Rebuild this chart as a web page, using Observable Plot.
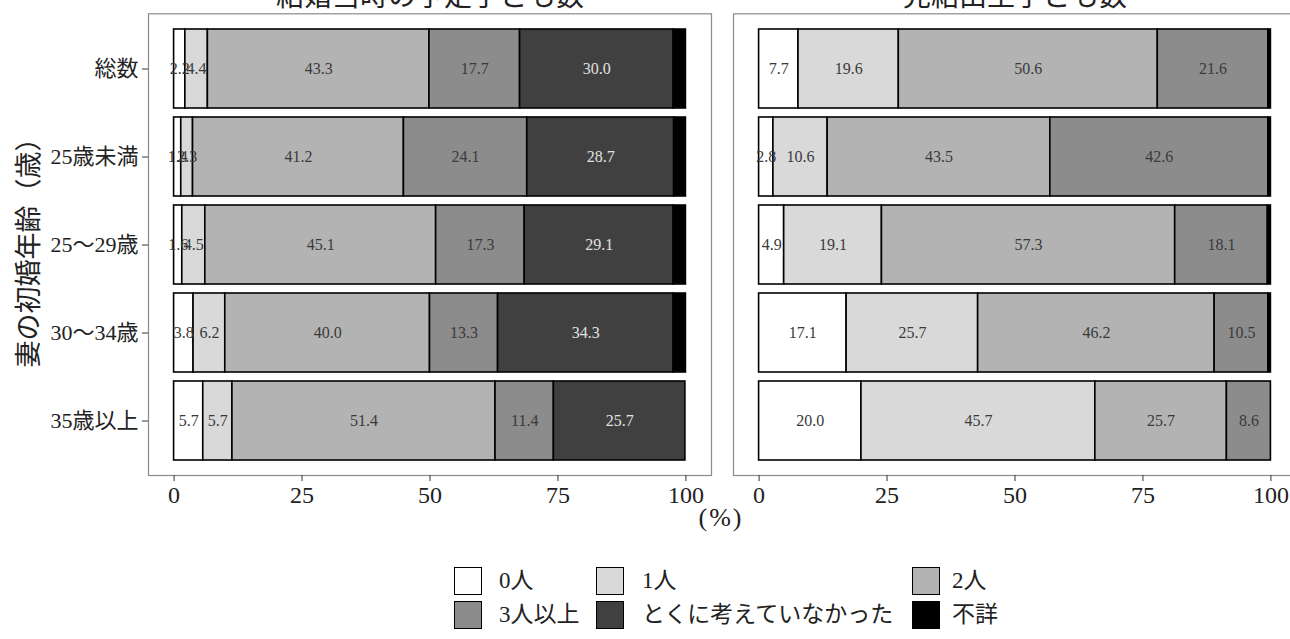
<!DOCTYPE html>
<html>
<head>
<meta charset="utf-8">
<script src="https://cdn.jsdelivr.net/npm/d3@7"></script>
<script src="https://cdn.jsdelivr.net/npm/@observablehq/plot@0.6"></script>
<style>
  html, body { margin: 0; padding: 0; background: #fff; overflow: hidden; }
  #wrap { position: relative; width: 1290px; height: 639px; overflow: hidden; background: #fff;
          font-family: "Liberation Serif", "Noto Sans CJK JP", serif; color: #222; }
  #chart { position: absolute; left: 0; top: -20px; width: 1300px; }
  #chart svg { max-width: none !important; }
  #ytitle { position: absolute; left: 26px; top: 246px; transform: translate(-50%, -50%) rotate(-90deg);
            font-size: 27px; white-space: nowrap; font-family: "Noto Sans CJK JP", sans-serif; color: #222; }
  #xtitle { position: absolute; left: 621px; width: 200px; top: 503px; text-align: center; font-size: 26px;
            letter-spacing: 2px; color: #222; }
  .key { position: absolute; width: 28px; height: 28px; box-sizing: border-box; border: 1.5px solid #000; }
  .lab { position: absolute; font-size: 23px; line-height: 28px; white-space: nowrap; color: #222; }
</style>
</head>
<body>
<div id="wrap">
  <div id="chart"></div>
  <div id="ytitle">妻の初婚年齢（歳）</div>
  <div id="xtitle">(%)</div>
  <div id="legend"></div>
</div>
<script>
// ---- data ----
const panels = ["結婚当時の予定子ども数", "完結出生子ども数"];
const ages = ["総数", "25歳未満", "25～29歳", "30～34歳", "35歳以上"];
const cats = ["0人", "1人", "2人", "3人以上", "とくに考えていなかった", "不詳"];
const catColors = ["#ffffff", "#d9d9d9", "#b3b3b3", "#8c8c8c", "#404040", "#000000"];
const xTicks = [0, 25, 50, 75, 100];

// 結婚当時の予定子ども数 (one array per category, values by age group)
const planned0 = [2.2, 1.4, 1.6, 3.8, 5.7];
const planned1 = [4.4, 2.3, 4.5, 6.2, 5.7];
const planned2 = [43.3, 41.2, 45.1, 40.0, 51.4];
const planned3 = [17.7, 24.1, 17.3, 13.3, 11.4];
const plannedNone = [30.0, 28.7, 29.1, 34.3, 25.7];
const plannedNA = [2.4, 2.3, 2.4, 2.4, 0];

// 完結出生子ども数
const born0 = [7.7, 2.8, 4.9, 17.1, 20.0];
const born1 = [19.6, 10.6, 19.1, 25.7, 45.7];
const born2 = [50.6, 43.5, 57.3, 46.2, 25.7];
const born3 = [21.6, 42.6, 18.1, 10.5, 8.6];
const bornNone = [0, 0, 0, 0, 0];
const bornNA = [0.5, 0.5, 0.6, 0.5, 0];

const series = [
  [planned0, planned1, planned2, planned3, plannedNone, plannedNA],
  [born0, born1, born2, born3, bornNone, bornNA]
];

const rows = [];
panels.forEach((p, pi) => {
  ages.forEach((a, ai) => {
    cats.forEach((c, ci) => {
      const v = series[pi][ci][ai];
      if (v > 0) rows.push({panel: p, age: a, cat: c, value: v});
    });
  });
});

const darkCat = "とくに考えていなかった";
const fontStack = "'Liberation Serif', 'Noto Sans CJK JP', serif";

const chart = Plot.plot({
  width: 1300,
  height: 540,
  marginTop: 33.3,
  marginBottom: 45,
  marginLeft: 148,
  marginRight: 4,
  style: {fontFamily: fontStack, background: "white", color: "#222", maxWidth: "none"},
  fx: {domain: panels, paddingInner: 22 / 585, paddingOuter: 0, axis: null, label: null},
  x: {domain: [-5, 105], label: null},
  y: {domain: ages, paddingInner: 0.1, paddingOuter: 0.15, label: null},
  color: {domain: cats, range: catColors},
  marks: [
    Plot.frame({stroke: "#8a8a8a", strokeWidth: 1.2}),
    Plot.barX(rows, Plot.stackX({
      x: "value", y: "age", fx: "panel", fill: "cat", stroke: "#000", strokeWidth: 1.6
    })),
    Plot.text(rows, Plot.stackX({
      x: "value", y: "age", fx: "panel", z: "cat",
      text: d => (d.cat !== "不詳" && d.cat !== darkCat) ? d.value.toFixed(1) : null,
      fill: "#3a3a3a", fontSize: 16, fontFamily: "'Liberation Serif', serif",
      style: "letter-spacing: 1px"
    })),
    Plot.text(rows, Plot.stackX({
      x: "value", y: "age", fx: "panel", z: "cat",
      text: d => d.cat === darkCat ? d.value.toFixed(1) : null,
      fill: "#e2e2e2", fontSize: 16, fontFamily: "'Liberation Serif', serif"
    })),
    Plot.axisX({ticks: xTicks, tickSize: 6, tickPadding: 4, fontSize: 24, label: null, stroke: "#333"}),
    Plot.axisY({tickSize: 6, tickPadding: 4, fontSize: 22, label: null, stroke: "#333"}),
    Plot.text(panels, {fx: d => d, text: d => d, frameAnchor: "top", lineAnchor: "bottom", dy: -8,
      fontSize: 28, fontFamily: "'Noto Sans CJK JP', sans-serif", fill: "#222"})
  ]
});
chart.style.maxWidth = "none";
document.getElementById("chart").appendChild(chart);

// ---- legend ----
const legend = document.getElementById("legend");
const keyX = [454, 596, 912];
const labX = [499, 642, 952];
const rowY = [567, 601];
cats.forEach((c, i) => {
  const col = i % 3, row = Math.floor(i / 3);
  const k = document.createElement("div");
  k.className = "key";
  k.style.left = keyX[col] + "px";
  k.style.top = rowY[row] + "px";
  k.style.background = catColors[i];
  legend.appendChild(k);
  const t = document.createElement("div");
  t.className = "lab";
  t.style.left = labX[col] + "px";
  t.style.top = rowY[row] + "px";
  t.textContent = c;
  legend.appendChild(t);
});
</script>
</body>
</html>
